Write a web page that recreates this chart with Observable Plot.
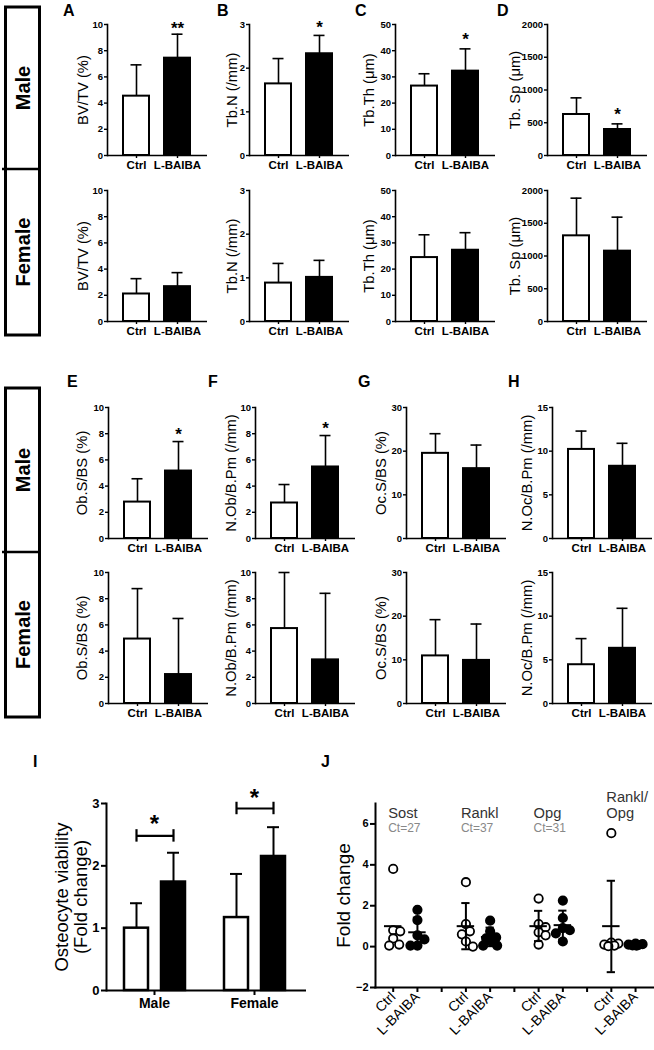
<!DOCTYPE html>
<html><head><meta charset="utf-8">
<script src="https://cdn.jsdelivr.net/npm/d3@7"></script>
<script src="https://cdn.jsdelivr.net/npm/@observablehq/plot@0.6"></script>
<style>
html,body{margin:0;padding:0;background:#fff;}
#fig{position:relative;width:654px;height:1050px;overflow:hidden;font-family:"Liberation Sans",Arial,sans-serif;}
#fig .p{position:absolute;}
#fig svg{overflow:visible;}
</style></head><body><div id="fig"></div>
<script>
// ---------------- data ----------------
const groups = ["Ctrl", "L-BAIBA"];
const panelIds = ["A","B","C","D","E","F","G","H"];
const yLabels = ["BV/TV (%)","Tb.N (/mm)","Tb.Th (μm)","Tb. Sp (μm)","Ob.S/BS (%)","N.Ob/B.Pm (/mm)","Oc.S/BS (%)","N.Oc/B.Pm (/mm)"];
const yTicks = [[0,2,4,6,8,10],[0,1,2,3],[0,10,20,30,40,50],[0,500,1000,1500,2000],[0,2,4,6,8,10],[0,2,4,6,8,10],[0,10,20,30],[0,5,10,15]];
const maleMean   = [[4.53,7.43],[1.64,2.33],[26.5,32.2],[626,397],[2.78,5.15],[2.71,5.46],[19.5,16.0],[10.2,8.27]];
const maleUpper  = [[6.92,9.26],[2.22,2.75],[31.2,40.7],[880,483],[4.56,7.40],[4.12,7.86],[24.0,21.4],[12.3,10.9]];
const femaleMean = [[2.10,2.66],[0.88,1.01],[24.4,27.2],[1308,1074],[4.92,2.21],[5.72,3.33],[10.9,9.87],[4.44,6.32]];
const femaleUpper= [[3.27,3.73],[1.33,1.40],[33.1,33.9],[1883,1593],[8.77,6.49],[10.0,8.41],[19.2,18.2],[7.43,10.9]];
const maleStars  = ["**","*","*","*","*","*","",""];
const maleStarY  = [10.0, 3.03, 45.8, 687, 8.25, 8.76, null, null];

const viabilitySex = ["Male","Female"];
const viabilityMean  = [[1.00,1.74],[1.17,2.15]];
const viabilityUpper = [[1.40,2.21],[1.87,2.62]];
const viabilityBracketY = [2.48, 2.92];
const viabilityStarY = [2.76, 3.18];

const genes = ["Sost","Rankl","Opg","Rankl/Opg"];
const geneTitle = ["Sost","Rankl","Opg","Rankl/\nOpg"];
const geneCt = ["Ct=27","Ct=37","Ct=31",""];
const ctrlFold  = [[3.8,0.8,0.75,0.4,0.1,0.05],[3.15,1.1,0.75,0.6,0.25,0.0],[2.35,1.1,0.95,0.7,0.55,0.1],[5.55,0.2,0.15,0.1,0.05,0.02]];
const baibaFold = [[1.8,1.3,0.55,0.35,0.05,0.05],[1.27,0.75,0.45,0.4,0.25,0.05,0.05],[2.25,1.4,0.9,0.8,0.65,0.25],[0.15,0.12,0.1,0.08,0.06,0.05]];
const foldMean  = [[1.0,0.70],[1.0,0.47],[1.0,1.05],[1.0,0.10]];
const foldUpper = [[null,1.42],[2.13,0.93],[1.75,1.76],[3.22,null]];
const foldLower = [[null,0.0],[-0.13,0.02],[0.27,0.35],[-1.25,null]];

// ---------------- layout ----------------
const rowAxisX = [[106.7,249.3,395,546.7],[108.3,255,406,551.7]];
const rowFrameTop = [[23.5,189.5],[406.7,571.7]];
const yLabelGap = [24.7,17.6,26,32.7,25.8,24,25,25];
const narrow = "'Liberation Sans Narrow','Liberation Sans',Arial,sans-serif";
const sans = "'Liberation Sans',Arial,sans-serif";
const fig = document.getElementById("fig");
function place(svg, left, top) {
  const d = document.createElement("div");
  d.className = "p"; d.style.left = left + "px"; d.style.top = top + "px";
  d.appendChild(svg); fig.appendChild(d);
}
const baseStyle = {background: "transparent", overflow: "visible", maxWidth: "none", fontFamily: sans, color: "black"};

// --------- decorations: boxes, panel letters ---------
const deco = d3.create("svg").attr("width", 654).attr("height", 1050)
  .style("position","absolute").style("left","0px").style("top","0px");
[[7,169,335],[388,552,717]].forEach(([t,m,b]) => {
  deco.append("rect").attr("x",5.5).attr("y",t).attr("width",34).attr("height",b-t)
    .attr("fill","none").attr("stroke","black").attr("stroke-width",3);
  deco.append("line").attr("x1",2).attr("x2",40).attr("y1",m).attr("y2",m).attr("stroke","black").attr("stroke-width",2.5);
  [["Male",(t+m)/2],["Female",(m+b)/2]].forEach(([s,cy]) => {
    deco.append("text").text(s).attr("transform",`translate(23,${cy}) rotate(-90)`)
      .attr("text-anchor","middle").attr("dominant-baseline","central")
      .attr("font-family",sans).attr("font-weight","bold").attr("font-size",20);
  });
});
[["A",63,16],["B",217,16],["C",355,16],["D",497,16],["E",67,387],["F",208,387],["G",358,387],["H",508,387],["I",33,767],["J",321,767]]
  .forEach(([s,x,y]) => deco.append("text").text(s).attr("x",x).attr("y",y)
    .attr("font-family",sans).attr("font-weight","bold").attr("font-size",16));
fig.appendChild(deco.node());

// --------- bar panels A-H ---------
const ML = 60, MR = 14, MT = 22, MB = 30, FW = 100, FH = 131;
function barPanel(idx, sexIdx) {
  const mean = sexIdx === 0 ? maleMean[idx] : femaleMean[idx];
  const upper = sexIdx === 0 ? maleUpper[idx] : femaleUpper[idx];
  const rows = groups.map((g, i) => ({group: g, mean: mean[i], upper: upper[i]}));
  const stars = (sexIdx === 0 && maleStars[idx]) ? [{group: "L-BAIBA", y: maleStarY[idx], s: maleStars[idx]}] : [];
  const ticks = yTicks[idx];
  const svg = Plot.plot({
    width: ML + FW + MR, height: MT + FH + MB,
    marginLeft: ML, marginRight: MR, marginTop: MT, marginBottom: MB,
    style: baseStyle,
    x: {domain: groups, paddingInner: 0.357, paddingOuter: 0.37},
    y: {domain: [0, ticks[ticks.length - 1]]},
    color: {domain: groups, range: ["white", "black"]},
    marks: [
      Plot.barY(rows, {x: "group", y: "mean", fill: "group", stroke: "black", strokeWidth: 2}),
      Plot.ruleX(rows, {x: "group", y1: "mean", y2: "upper", stroke: "black", strokeWidth: 1.6}),
      Plot.tickY(rows, {x: "group", y: "upper", insetLeft: 7.5, insetRight: 7.5, stroke: "black", strokeWidth: 1.6}),
      Plot.text(stars, {x: "group", y: "y", text: "s", fontSize: 17, fontWeight: "bold", dy: 0.26 * 17}),
      Plot.frame({anchor: "left", stroke: "black", strokeWidth: 1.6}),
      Plot.ruleY([0], {stroke: "black", strokeWidth: 1.6}),
      Plot.axisY({ticks, tickSize: 3, tickPadding: 1.5, fontSize: 9.5, fontWeight: "bold", fontFamily: narrow, label: null, tickFormat: d => String(d), strokeWidth: 1.4}),
      Plot.axisX({tickSize: 3, tickPadding: 2, fontSize: 11.5, fontWeight: "bold", fontFamily: narrow, label: null, strokeWidth: 1.4}),
      Plot.text([yLabels[idx]], {text: d => d, frameAnchor: "left", textAnchor: "middle", lineAnchor: "middle", rotate: -90, dx: -yLabelGap[idx], fontSize: 14.8, fontFamily: sans})
    ]
  });
  const row = Math.floor(idx / 4), col = idx % 4;
  place(svg, rowAxisX[row][col] - ML, rowFrameTop[row][sexIdx] - MT);
}
for (let i = 0; i < 8; i++) { barPanel(i, 0); barPanel(i, 1); }

// --------- panel I ---------
(function () {
  const rows = [];
  viabilitySex.forEach((s, i) => groups.forEach((g, j) => rows.push({sex: s, group: g, mean: viabilityMean[i][j], upper: viabilityUpper[i][j]})));
  const br = viabilitySex.map((s, i) => ({sex: s, y: viabilityBracketY[i], star: viabilityStarY[i]}));
  const brEnds = [];
  br.forEach(b => groups.forEach(g => brEnds.push({sex: b.sex, group: g, y: b.y})));
  const L = 70, T = 40, W = 196, H = 187;
  const opts = (superFacet) => ({
    width: L + W + 10, height: T + H + 45,
    marginLeft: L, marginRight: 10, marginTop: T, marginBottom: 45,
    style: baseStyle,
    fx: {domain: viabilitySex, paddingInner: 0.04, paddingOuter: 0},
    x: {domain: groups, paddingInner: 0.36, paddingOuter: 0.46, axis: null},
    y: {domain: [0, 3]},
    color: {domain: groups, range: ["white", "black"]},
    marks: [
      Plot.barY(rows, {fx: "sex", x: "group", y: "mean", fill: "group", stroke: "black", strokeWidth: 2.5}),
      Plot.ruleX(rows, {fx: "sex", x: "group", y1: "mean", y2: "upper", stroke: "black", strokeWidth: 2}),
      Plot.tickY(rows, {fx: "sex", x: "group", y: "upper", insetLeft: 6, insetRight: 6, stroke: "black", strokeWidth: 2}),
      Plot.link(br, {fx: "sex", x1: () => "Ctrl", x2: () => "L-BAIBA", y1: "y", y2: "y", stroke: "black", strokeWidth: 2.2}),
      Plot.ruleX(brEnds, {fx: "sex", x: "group", y1: d => d.y - 0.1, y2: d => d.y + 0.1, stroke: "black", strokeWidth: 2.2}),
      Plot.text(br, {fx: "sex", y: "star", text: () => "*", fontSize: 24, fontWeight: "bold", dy: 0.26 * 24}),
      Plot.ruleY([0], {stroke: "black", strokeWidth: 2, insetRight: -4}),
      superFacet
        ? Plot.frame({anchor: "left", facet: "super", stroke: "black", strokeWidth: 2})
        : Plot.ruleX([{sex: "Male", group: "Ctrl"}], {fx: "sex", x: "group", y1: () => 0, y2: () => 3, dx: -29.25, stroke: "black", strokeWidth: 2}),
      Plot.axisY({ticks: [0,1,2,3], tickFormat: d => String(d), tickSize: 5, tickPadding: 2, fontSize: 13, fontWeight: "bold", label: null, strokeWidth: 2}),
      Plot.axisFx({anchor: "bottom", tickSize: 5, tickPadding: 3, fontSize: 14, fontWeight: "bold", label: null, strokeWidth: 2}),
      Plot.text([{sex: "Male", t: "Osteocyte viability\n(Fold change)"}], {fx: "sex", text: "t", frameAnchor: "left", textAnchor: "middle", lineAnchor: "middle", rotate: -90, dx: -35, fontSize: 18.5, lineHeight: 1.0})
    ]
  });
  let svg;
  try { svg = Plot.plot(opts(true)); } catch (e) { svg = Plot.plot(opts(false)); }
  place(svg, 106 - L, 803 - T);
})();

// --------- panel J ---------
(function () {
  const L = 55, R = 1, T = 40, B = 63, W = 278, H = 184;
  const xDomain = [-0.73, 10.74], yDomain = [-2, 7];
  const pxX = W / (xDomain[1] - xDomain[0]), pxY = H / (yDomain[1] - yDomain[0]);
  function swarm(values) {
    const order = d3.range(values.length).sort((a, b) => values[b] - values[a]);
    const placed = [], offs = new Array(values.length);
    for (const i of order) {
      let best = 0, bestScore = -Infinity;
      for (let k = 0; k <= 14; k++) {
        const o = (k % 2 ? 1 : -1) * Math.ceil(k / 2);
        let md = Infinity;
        for (const p of placed) md = Math.min(md, Math.hypot(o - p.o, (values[i] - p.v) * pxY));
        if (md >= 8) { best = o; bestScore = Infinity; break; }
        if (md > bestScore) { bestScore = md; best = o; }
      }
      placed.push({o: best, v: values[i]}); offs[i] = best;
    }
    return offs.map(o => o / pxX);
  }
  const pts = [], stats = [];
  genes.forEach((g, gi) => {
    [ctrlFold[gi], baibaFold[gi]].forEach((vals, k) => {
      const pos = gi * 3 + k;
      const offs = swarm(vals);
      vals.forEach((v, j) => pts.push({x: pos + offs[j], y: v, group: groups[k]}));
      stats.push({pos, mean: foldMean[gi][k], upper: foldUpper[gi][k], lower: foldLower[gi][k]});
    });
  });
  const errs = stats.filter(d => d.upper != null);
  const caps = errs.flatMap(d => [{pos: d.pos, y: d.upper}, {pos: d.pos, y: d.lower}]);
  const titles = genes.map((g, gi) => ({pos: gi * 3, t: geneTitle[gi], ct: geneCt[gi]}));
  const tickLab = i => i % 3 === 0 ? "Ctrl" : i % 3 === 1 ? "L-BAIBA" : "";
  const svg = Plot.plot({
    width: L + W + R, height: T + H + B,
    marginLeft: L, marginRight: R, marginTop: T, marginBottom: B,
    style: baseStyle,
    x: {domain: xDomain},
    y: {domain: yDomain},
    color: {domain: groups, range: ["white", "black"]},
    marks: [
      Plot.dot(pts, {x: "x", y: "y", r: 4.2, fill: "group", stroke: "black", strokeWidth: 1.8}),
      Plot.ruleY(stats, {y: "mean", x1: d => d.pos - 0.36, x2: d => d.pos + 0.36, stroke: "black", strokeWidth: 2}),
      Plot.ruleX(errs, {x: "pos", y1: "lower", y2: "upper", stroke: "black", strokeWidth: 2}),
      Plot.ruleY(caps, {y: "y", x1: d => d.pos - 0.17, x2: d => d.pos + 0.17, stroke: "black", strokeWidth: 2}),
      Plot.text(titles, {x: "pos", y: 6.3, text: "t", textAnchor: "start", lineAnchor: "bottom", dx: -5, fontSize: 14.7, lineHeight: 1.1, fill: "#333"}),
      Plot.text(titles, {x: "pos", y: 5.6, text: "ct", textAnchor: "start", lineAnchor: "bottom", dx: -5, fontSize: 12, fill: "#888"}),
      Plot.frame({anchor: "left", stroke: "black", strokeWidth: 2}),
      Plot.frame({anchor: "bottom", stroke: "black", strokeWidth: 2}),
      Plot.axisY({ticks: [-2,0,2,4,6], tickSize: 5, tickPadding: 2, fontSize: 11, fontWeight: "bold", label: null, strokeWidth: 2}),
      Plot.axisX({ticks: d3.range(11), tickFormat: tickLab, tickSize: 5, tickPadding: 2, tickRotate: -45, fontSize: 14, label: null, strokeWidth: 2}),
      Plot.text(["Fold change"], {text: d => d, frameAnchor: "left", textAnchor: "middle", lineAnchor: "middle", rotate: -90, dx: -32, fontSize: 19})
    ]
  });
  place(svg, 375 - L, 803 - T);
})();
</script></body></html>
